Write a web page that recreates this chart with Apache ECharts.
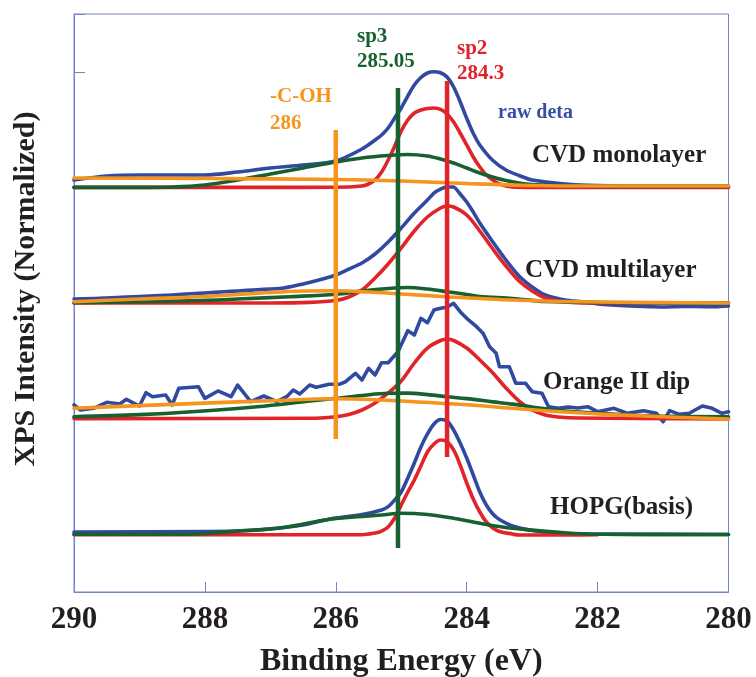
<!DOCTYPE html>
<html>
<head>
<meta charset="utf-8">
<script src="https://cdn.jsdelivr.net/npm/echarts@6/dist/echarts.min.js"></script>
<style>
  html, body { margin: 0; padding: 0; background: #ffffff; }
  #chart { width: 756px; height: 677px; }
</style>
</head>
<body>
<div id="chart"></div>
<script>
// C1s XPS spectra, binding energy axis runs from high to low
const energyTicks = [290, 288, 286, 284, 282, 280];
const sampleNames = ['CVD monolayer', 'CVD multilayer', 'Orange II dip', 'HOPG(basis)'];
// vertical offset of each stacked spectrum (normalized units)
const stackOffsets = [70, 50, 30, 10];

// ---- CVD monolayer: [binding energy (eV), intensity above baseline]
const monoRaw = [[290,1.28],[289.5,1.97],[289,2.15],[288,2.15],[287.5,2.66],[287,3.36],[286.5,3.88],[286,4.57],[285.6,6.64],[285.4,8.20],[285.3,9.07],[285.2,10.28],[285.1,12.01],[285,13.74],[284.9,15.81],[284.8,17.72],[284.7,19.01],[284.6,19.79],[284.5,20.02],[284.4,19.83],[284.3,19.10],[284.2,17.37],[284.1,14.83],[284,11.96],[283.9,9.36],[283.8,7.34],[283.6,4.65],[283.4,3.01],[283.2,2.06],[283,1.28],[282.5,0.59],[282,0.33],[281,0.24],[280,0.24]];
const monoSp2 = [[290,0],[288,0],[287,0],[286,0.02],[285.6,0.24],[285.5,0.59],[285.4,1.28],[285.3,2.66],[285.2,4.74],[285.1,7.16],[285,9.76],[284.9,11.66],[284.8,12.87],[284.7,13.39],[284.6,13.65],[284.5,13.74],[284.4,13.48],[284.3,12.70],[284.2,11.31],[284.1,9.41],[284,7.34],[283.9,5.26],[283.8,3.53],[283.7,2.15],[283.6,1.28],[283.5,0.59],[283.3,0.07],[283,0],[282,0],[280,0]];
const monoSp3 = [[290,0],[289,0],[288.5,0.07],[288,0.42],[287.5,1.28],[287,2.32],[286.5,3.36],[286,4.39],[285.6,5.09],[285.2,5.52],[284.9,5.69],[284.6,5.43],[284.4,4.91],[284.2,4.22],[284,3.36],[283.8,2.49],[283.6,1.80],[283.4,1.19],[283.2,0.76],[283,0.50],[282.5,0.24],[282,0.16],[280,0.16]];
const monoBg = [[290,1.63],[288,1.54],[286,1.37],[285,1.11],[284,0.67],[283,0.33],[282,0.24],[280,0.24]];

// ---- CVD multilayer
const multiRaw = [[290,0.69],[289.7,0.75],[289.5,0.87],[289.2,1.05],[289,1.12],[288.7,1.30],[288.5,1.38],[288.2,1.60],[288,1.73],[287.7,1.95],[287.5,2.08],[287.2,2.30],[287,2.42],[286.8,2.60],[286.5,3.29],[286.2,4.15],[286,4.84],[285.8,5.88],[285.6,6.92],[285.4,8.48],[285.2,10.55],[285,12.98],[284.8,15.57],[284.6,17.82],[284.5,19.03],[284.4,19.72],[284.3,20.07],[284.2,20.07],[284.1,18.86],[284,17.47],[283.9,15.74],[283.8,13.84],[283.6,10.55],[283.4,7.44],[283.2,4.67],[283,2.77],[282.8,1.38],[282.5,0.52],[282.2,0.17],[282,-0.17],[281.5,-0.52],[281.2,-0.62],[281,-0.69],[280.7,-0.60],[280.5,-0.61],[280.2,-0.66],[280,-0.52]];
const multiSp2 = [[290,0],[287,0],[286.4,0.10],[286,0.43],[285.8,1.04],[285.6,2.25],[285.4,4.33],[285.2,6.75],[285,9.52],[284.8,12.46],[284.6,14.88],[284.4,16.44],[284.3,16.78],[284.2,16.61],[284,15.22],[283.8,12.46],[283.6,9.34],[283.4,6.40],[283.2,3.81],[283,2.08],[282.8,0.87],[282.6,0.35],[282.4,0.09],[282,0],[280,0]];
const multiSp3 = [[290,0.05],[288.2,0.40],[287.5,0.69],[286.7,1.09],[286,1.51],[285.6,2.08],[285.2,2.51],[284.9,2.68],[284.6,2.42],[284.3,1.96],[284,1.47],[283.8,1.12],[283.3,0.78],[282.8,0.26],[282,0.09],[280,0]];
const multiBg = [[290,0.22],[289,0.69],[288,1.12],[287,1.82],[286.5,2.08],[286,2.13],[285.5,1.90],[285,1.56],[284.3,1.09],[283.3,0.52],[282.3,0.22],[281,0.09],[280,0]];

// ---- Orange II dip (noisy raw trace)
const dipRaw = [[290,2.35],[289.9,1.49],[289.7,1.78],[289.5,2.82],[289.3,2.53],[289.2,3.34],[289,2.18],[288.9,4.48],[288.8,3.79],[288.6,4.08],[288.5,2.35],[288.4,5.24],[288.1,5.52],[288,3.51],[287.8,4.78],[287.6,3.79],[287.5,5.81],[287.3,2.92],[287.1,3.91],[286.9,2.92],[286.75,3.79],[286.65,4.95],[286.55,4.26],[286.4,5.81],[286.3,5.42],[286.1,5.93],[285.95,5.93],[285.85,6.38],[285.7,7.84],[285.6,6.68],[285.5,8.70],[285.4,7.54],[285.3,9.67],[285.2,9.67],[285.05,11.57],[284.9,15.21],[284.8,14.46],[284.7,17.35],[284.6,16.59],[284.5,18.79],[284.4,19.08],[284.3,19.26],[284.2,19.95],[284.1,18.49],[284,17.35],[283.85,15.90],[283.75,14.76],[283.65,12.44],[283.55,11.30],[283.5,8.98],[283.35,8.98],[283.25,6.11],[283.1,6.11],[283,4.65],[282.85,4.38],[282.75,2.06],[282.6,1.78],[282.45,2.00],[282.3,1.83],[282.15,2.06],[282,1.19],[281.75,1.78],[281.55,0.92],[281.3,1.37],[281.1,0.92],[281,-0.54],[280.9,1.37],[280.75,0.74],[280.6,0.92],[280.4,2.18],[280.25,1.78],[280.1,0.92],[280,1.19]];
const dipSp2 = [[290,0],[286.4,0.05],[286,0.33],[285.8,0.71],[285.6,1.49],[285.4,2.70],[285.2,4.43],[285,6.51],[284.8,9.62],[284.6,12.21],[284.4,13.51],[284.3,13.72],[284.2,13.51],[284,12.21],[283.8,10.14],[283.6,7.89],[283.4,5.29],[283.2,3.04],[283,1.49],[282.8,0.62],[282.6,0.28],[282.3,0.10],[280,-0.07]];
const dipSp3 = [[290,0.33],[289,0.69],[288.2,1.19],[287.2,2.06],[286.4,3.04],[286,3.51],[285.6,4.00],[285.2,4.38],[284.9,4.40],[284.6,4.15],[284.3,3.79],[284,3.45],[283.6,2.90],[283.3,2.50],[283,2.00],[282.5,1.30],[282,0.95],[281.5,0.60],[281,0.40],[280,0.30]];
const dipBg = [[290,1.78],[289,2.25],[288,2.68],[287,3.10],[286,3.44],[285.3,3.22],[284.8,2.92],[284,2.40],[283.3,1.78],[282.5,1.15],[281.5,0.55],[280,-0.07]];

// ---- HOPG reference
const hopgRaw = [[290,0.38],[288,0.47],[287.5,0.55],[287,0.90],[286.5,1.59],[286.1,2.60],[285.6,3.40],[285.3,4.20],[285.2,4.76],[285.1,5.92],[285,7.30],[284.9,9.72],[284.8,12.32],[284.7,15.09],[284.6,17.34],[284.5,19.07],[284.4,19.84],[284.3,19.58],[284.2,18.03],[284.1,15.78],[284,13.18],[283.9,10.24],[283.8,7.30],[283.7,5.05],[283.6,3.49],[283.5,2.54],[283.3,1.42],[283,0.64],[282.7,0.21],[282.4,0.03],[280,-0.05]];
const hopgSp2 = [[290,-0.1],[285.6,-0.1],[285.4,0.21],[285.3,0.55],[285.2,1.25],[285.1,2.80],[285,5.05],[284.9,7.30],[284.8,9.38],[284.7,11.80],[284.6,14.22],[284.5,15.61],[284.4,16.30],[284.3,16.00],[284.2,14.57],[284.1,11.97],[284,8.86],[283.9,6.09],[283.8,3.84],[283.7,2.11],[283.6,1.07],[283.5,0.47],[283.3,0.03],[283.2,-0.14],[282.5,-0.12],[282,-0.1]];
const hopgSp3 = [[290,0],[288.3,0],[288,0.12],[287.5,0.55],[286.8,1.16],[286.1,2.58],[285.6,3.06],[285.3,3.32],[285,3.62],[284.6,3.41],[284.2,2.75],[283.8,1.89],[283.3,1.02],[282.5,0.26],[282,0],[280,-0.05]];

// component marker lines: label, energy (eV), vertical extent
const markerNames = ['-C-OH', 'sp3', 'sp2'];
const markerEnergies = [286, 285.05, 284.3];
const markerSpans = [[26.47, 79.93], [7.61, 87.2], [23.36, 88.41]];

const C = {
  raw: '#3049a1',
  sp2: '#e1232a',
  sp3: '#17602f',
  bg: '#f7941d',
  axis: '#7482c6',
  text: '#231f20'
};
const SERIF = '"Liberation Serif", "Times New Roman", serif';

const spectra = [
  { raw: monoRaw, sp2: monoSp2, sp3: monoSp3, bg: monoBg, rawSmooth: 0.3 },
  { raw: multiRaw, sp2: multiSp2, sp3: multiSp3, bg: multiBg, rawSmooth: 0.2 },
  { raw: dipRaw, sp2: dipSp2, sp3: dipSp3, bg: dipBg, rawSmooth: false },
  { raw: hopgRaw, sp2: hopgSp2, sp3: hopgSp3, bg: null, rawSmooth: 0.3 }
];

const lift = (pts, off) => pts.map(p => [p[0], +(p[1] + off).toFixed(3)]);

function curve(name, pts, color, smooth, z) {
  return {
    name, type: 'line', data: pts, smooth: smooth,
    showSymbol: false, symbol: 'none', silent: true, z: z,
    lineStyle: { color: color, width: 3.6, cap: 'round', join: 'round' }
  };
}

const series = [];
spectra.forEach((s, i) => {
  const off = stackOffsets[i];
  const nm = sampleNames[i];
  series.push(curve(nm + ' raw', lift(s.raw, off), C.raw, s.rawSmooth, 2));
  series.push(curve(nm + ' sp2', lift(s.sp2, off), C.sp2, 0.35, 3));
  series.push(curve(nm + ' sp3', lift(s.sp3, off), C.sp3, 0.35, 4));
  if (s.bg) series.push(curve(nm + ' C-OH', lift(s.bg, off), C.bg, 0.35, 5));
});

const markerColors = [C.bg, C.sp3, C.sp2];
markerNames.forEach((n, i) => {
  series.push({
    name: n + ' position', type: 'line', silent: true, z: 6,
    showSymbol: false, symbol: 'none',
    data: [[markerEnergies[i], markerSpans[i][0]], [markerEnergies[i], markerSpans[i][1]]],
    lineStyle: { color: markerColors[i], width: 4.5, cap: 'butt' }
  });
});

function label(text, x, baseline, size, color) {
  return {
    type: 'text', x: x, y: baseline - size * 0.33, silent: true, z: 20,
    style: { text: text, font: 'bold ' + size + 'px ' + SERIF, fill: color, align: 'left', verticalAlign: 'middle' }
  };
}

const graphics = [
  label(markerNames[1], 357, 44, 21, C.sp3),
  label(String(markerEnergies[1]), 357, 69, 21, C.sp3),
  label(markerNames[2], 457, 56, 21, C.sp2),
  label(String(markerEnergies[2]), 457, 81, 21, C.sp2),
  label(markerNames[0], 270, 104, 21, C.bg),
  label(String(markerEnergies[0]), 270, 131, 21, C.bg),
  label('raw deta', 498, 119, 20, '#3a4ea6'),
  label(sampleNames[0], 532, 164, 25, C.text),
  label(sampleNames[1], 525, 279, 25, C.text),
  label(sampleNames[2], 543, 391, 25, C.text),
  label(sampleNames[3], 550, 516, 25, C.text),
  {
    type: 'text', x: 26, y: 289, rotation: Math.PI / 2, silent: true, z: 20,
    style: { text: 'XPS Intensity (Normalized)', font: 'bold 30px ' + SERIF, fill: C.text, align: 'center', verticalAlign: 'middle' }
  }
];

const chart = echarts.init(document.getElementById('chart'), null, { renderer: 'canvas' });
chart.setOption({
  animation: false,
  backgroundColor: '#ffffff',
  grid: {
    left: 74, right: 27.5, top: 14, bottom: 85,
    outerBoundsMode: 'none', containLabel: false,
    show: true, borderColor: C.axis, borderWidth: 1, backgroundColor: 'transparent'
  },
  xAxis: {
    type: 'value', inverse: true,
    min: energyTicks[energyTicks.length - 1], max: energyTicks[0], interval: 2,
    name: 'Binding Energy (eV)', nameLocation: 'middle', nameGap: 54,
    nameTextStyle: { fontFamily: SERIF, fontWeight: 'bold', fontSize: 32, color: C.text },
    axisLine: { show: true, lineStyle: { color: C.axis, width: 1 } },
    axisTick: { show: true, inside: true, length: 10, lineStyle: { color: C.axis, width: 1 } },
    axisLabel: { margin: 12, fontFamily: SERIF, fontWeight: 'bold', fontSize: 31, color: C.text },
    splitLine: { show: false }
  },
  yAxis: {
    type: 'value', min: 0, max: 100, interval: 90,
    axisLine: { show: true, lineStyle: { color: C.axis, width: 1 } },
    axisTick: { show: true, inside: true, length: 11, lineStyle: { color: C.axis, width: 1 } },
    axisLabel: { show: false },
    splitLine: { show: false }
  },
  series: series,
  graphic: graphics
});
</script>
</body>
</html>
